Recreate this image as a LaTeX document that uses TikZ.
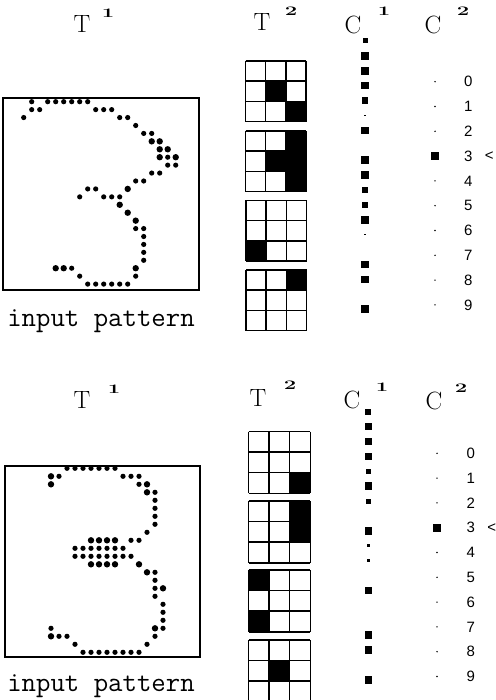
\documentclass[tikz,border=0pt]{standalone}
\usepackage{fontspec}
\newfontfamily\digitfont{Liberation Sans}
\usetikzlibrary{positioning}

% wide bold superscript digit
\newcommand{\supnum}[1]{\scalebox{1.7}[1]{\bfseries #1}}
% 3x3 template: left, top, cell size, filled cells (col/row)
\newcommand{\tgrid}[4]{%
  \foreach \cc/\rr in {#4} {\fill (#1+\cc*#3,#2+\rr*#3) rectangle ++(#3,#3);}
  \foreach \k in {0,...,3} {
    \draw[gridline] (#1+\k*#3,#2) -- ++(0,3*#3);
    \draw[gridline] (#1,#2+\k*#3) -- ++(3*#3,0);
  }
}

\begin{document}
\begin{tikzpicture}[x=1pt,y=-1pt]
\tikzset{
    lbl/.style={font=\fontsize{25}{25}\selectfont, inner sep=0pt},
    supl/.style={font=\fontsize{13}{13}\selectfont, inner sep=0pt},
    caption/.style={font=\ttfamily\fontsize{28}{28}\selectfont, inner sep=0pt, anchor=base},
    digit/.style={font=\digitfont\fontsize{15}{15}\selectfont, inner sep=0pt},
    sq/.style={fill, inner sep=0pt, minimum size=#1},
    gridline/.style={line width=1.5pt},
    frame/.style={line width=1.5pt}
}
\useasboundingbox (0,0) rectangle (495,700);

% ---------- upper half ----------
% labels
\node[lbl] (t1a) at (82,24.5) {T};
\node[supl] (t1as) at (108,13) {\supnum{1}};
\node[lbl] (t2a) at (262,22.5) {T};
\node[supl] (t2as) at (291,11.5) {\supnum{2}};
\node[lbl] (c1a) at (353,24.5) {C};
\node[supl] (c1as) at (384,11.5) {\supnum{1}};
\node[lbl] (c2a) at (433,24.5) {C};
\node[supl] (c2as) at (463,11.5) {\supnum{2}};
% input pattern
\draw[frame] (3,98) rectangle (199,290);
\foreach \cc/\rr in {3/0,5/0,6/0,7/0,8/0,9/0,10/0, 3/1,4/1,11/1,12/1,13/1,
    2/2,14/2,15/2, 16/3, 17/4,18/4, 20/7, 20/8,21/8, 18/9,19/9, 16/10,17/10,
    10/11,11/11, 9/12,12/12,13/12,14/12, 16/16,17/16, 17/17,17/18,17/19,17/20,
    8/21, 9/22,16/22, 10/23,11/23,12/23,13/23,14/23,15/23}
  \fill (7.7+8*\cc,101.7+7.93*\rr) circle (2.6);
\foreach \cc/\rr in {18/5,19/5, 19/6,20/6, 19/7,21/7, 15/11, 14/13, 15/14, 16/15,
    6/21,7/21,16/21}
  \fill (7.7+8*\cc,101.7+7.93*\rr) circle (3.2);
\node[caption] (cap1) at (101,326) {input pattern};
% second layer templates
\tgrid{245.5}{61}{20.2}{1/1,2/2}
\tgrid{245.5}{131}{20.2}{2/0,1/1,2/1,2/2}
\tgrid{246}{200.5}{20.2}{0/2}
\tgrid{246}{270}{20.2}{2/0}
% C1 column
\foreach \i/\s in {0/5,1/7.5,2/7.5,3/7.5,4/6.5,5/1.6,6/7.5,8/7.5,9/7.5,10/6,
    11/6.5,12/7.5,13/1.6,15/7.5,16/7.5,18/7.5}
  \node[sq=\s pt] (ua\i) at (365,41+14.9*\i) {};
% C2 column
\foreach \d in {0,...,9} {
  \node[digit] (ud\d) at (468.3,81.7+24.8*\d) {\d};
  \fill (435,81.7+24.8*\d) circle (0.8);
}
\node[sq=7.5pt] (uwin) at (435,156) {};
\node[digit, right=21pt of ud3.center, anchor=center] (uarr) {<};

% ---------- lower half ----------
\node[lbl] (t1b) at (82,400) {T};
\node[supl] (t1bs) at (114,389) {\supnum{1}};
\node[lbl] (t2b) at (258,397.5) {T};
\node[supl] (t2bs) at (290,385) {\supnum{2}};
\node[lbl] (c1b) at (352,400) {C};
\node[supl] (c1bs) at (382,387) {\supnum{1}};
\node[lbl] (c2b) at (434,401) {C};
\node[supl] (c2bs) at (461,388) {\supnum{2}};
% input pattern
\draw[frame] (5,466) rectangle (200,657);
\foreach \cc/\rr in {8/0,9/0,10/0,11/0,12/0,13/0,14/0, 7/1,15/1,16/1,17/1,
    17/2, 19/3, 19/4,19/5,19/6,19/7, 18/8, 16/9,17/9,
    9/10,10/10,11/10,12/10,13/10,14/10,15/10,
    9/11,10/11,11/11,12/11,13/11,14/11,15/11,16/11,
    19/13, 19/14, 19/15, 19/16, 20/17,20/18,20/19, 6/20,20/20,
    7/21,8/21,19/21, 9/22,18/22,
    10/23,11/23,12/23,13/23,14/23,15/23,16/23,17/23}
  \fill (3+8*\cc,468.3+8*\rr) circle (2.6);
\foreach \cc/\rr in {6/1, 6/2,18/2, 18/3, 11/9,12/9,13/9,14/9,
    11/12,12/12,13/12,14/12,17/12, 18/13, 20/15, 19/20, 6/21}
  \fill (3+8*\cc,468.3+8*\rr) circle (3.2);
\node[caption] (cap2) at (101,691) {input pattern};
% second layer templates
\tgrid{248.5}{431.5}{20.6}{2/2}
\tgrid{248.5}{501}{20.6}{2/0,2/1}
\tgrid{248.5}{570}{20.6}{0/0,0/2}
\tgrid{248.5}{640}{20.6}{1/1}
% C1 column
\foreach \i/\s in {0/6,1/7.5,2/7.5,3/7.5,4/5,5/7.5,6/5,8/7.5,9/3,10/3,
    12/7.5,15/7.5,16/7.5,18/7.5}
  \node[sq=\s pt] (la\i) at (368.3,411.7+14.9*\i) {};
% C2 column
\foreach \d in {0,...,9} {
  \node[digit] (ld\d) at (470.7,453.3+24.8*\d) {\d};
  \fill (437,453.3+24.8*\d) circle (0.8);
}
\node[sq=7.5pt] (lwin) at (437,528) {};
\node[digit, right=21pt of ld3.center, anchor=center] (larr) {<};
\end{tikzpicture}
\end{document}
